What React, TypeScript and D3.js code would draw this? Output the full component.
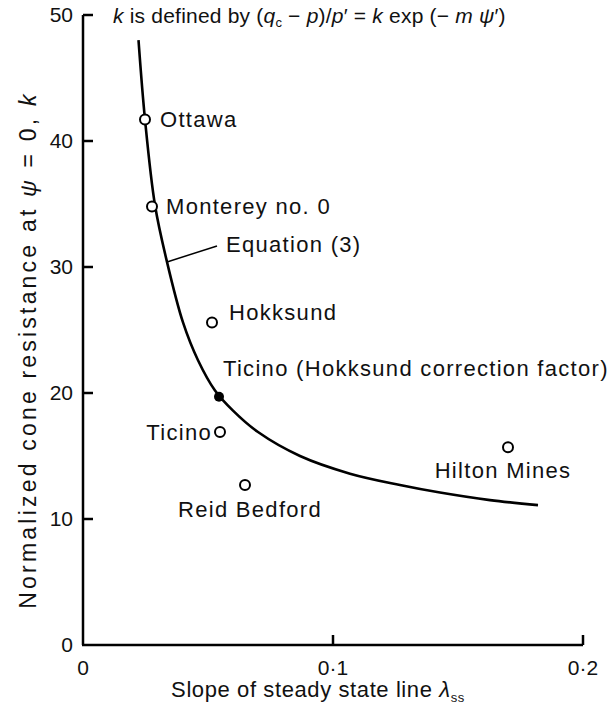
import React from "react";
import * as d3 from "d3";

// ---- data ----
const sites = ["Ottawa", "Monterey no. 0", "Hokksund", "Ticino", "Reid Bedford", "Hilton Mines"];
const lambdaSS = [0.0248, 0.0276, 0.0516, 0.0548, 0.0648, 0.170];
const kValues = [41.7, 34.8, 25.6, 16.9, 12.7, 15.7];

const filledSite = ["Ticino (Hokksund correction factor)"];
const filledLambda = [0.0544];
const filledK = [19.7];

const curveLambda = [0.0222, 0.0248, 0.0288, 0.0336, 0.04, 0.046, 0.0528, 0.06, 0.07, 0.0868, 0.1068, 0.1268, 0.1428, 0.1628, 0.182];
const curveK = [48.0, 41.7, 34.9, 30.4, 25.6, 22.6, 20.2, 18.6, 16.9, 15.0, 13.6, 12.7, 12.1, 11.5, 11.1];

const xTicks = [0, 0.1, 0.2];
const xTickLabels = ["0", "0·1", "0·2"];
const yTicks = [0, 10, 20, 30, 40, 50];

// ---- layout (not data) ----
const W = 612;
const H = 710;
const FONT = "'Liberation Sans', Arial, Helvetica, sans-serif";
const FS = 22;
const LS = 1.3;

const labelLayout: Record<string, { dx: number; dy: number; anchor: string }> = {
  "Ottawa": { dx: 15, dy: 0, anchor: "start" },
  "Monterey no. 0": { dx: 14, dy: 0, anchor: "start" },
  "Hokksund": { dx: 17, dy: -10, anchor: "start" },
  "Ticino": { dx: -8, dy: 0, anchor: "end" },
  "Reid Bedford": { dx: 5, dy: 24, anchor: "middle" },
  "Hilton Mines": { dx: -5, dy: 23, anchor: "middle" },
  "Ticino (Hokksund correction factor)": { dx: 4, dy: -28, anchor: "start" },
};

export default function App() {
  const x = d3.scaleLinear().domain([0, 0.2]).range([83, 583]);
  const y = d3.scaleLinear().domain([0, 50]).range([645, 15]);

  const curvePts: [number, number][] = curveLambda.map((l, i) => [l, curveK[i]]);
  const line = d3
    .line<[number, number]>()
    .x((d) => x(d[0]))
    .y((d) => y(d[1]))
    .curve(d3.curveCatmullRom.alpha(0.5));

  // leader for "Equation (3)" touches curve at 4th curve point
  const eqAnchor = curvePts[3];
  const ax = x(eqAnchor[0]);
  const ay = y(eqAnchor[1]);

  const textStyle = { fontFamily: FONT, fontSize: FS, letterSpacing: LS, fill: "#111" } as any;

  return (
    <svg width={W} height={H} style={{ position: "absolute", left: 0, top: 0, background: "#fff" }}>
      <rect x={0} y={0} width={W} height={H} fill="#fff" />
      {/* axes */}
      <line x1={x(0)} y1={y(0)} x2={x(0)} y2={y(50)} stroke="#000" strokeWidth={2.5} />
      <line x1={x(0) - 1} y1={y(0)} x2={x(0.2)} y2={y(0)} stroke="#000" strokeWidth={2.5} />
      {yTicks.filter((t) => t > 0).map((t) => (
        <line key={"yt" + t} x1={x(0)} x2={x(0) + 10} y1={y(t)} y2={y(t)} stroke="#000" strokeWidth={2.5} />
      ))}
      {xTicks.filter((t) => t > 0).map((t) => (
        <line key={"xt" + t} x1={x(t)} x2={x(t)} y1={y(0)} y2={y(0) - 10} stroke="#000" strokeWidth={2.5} />
      ))}
      {yTicks.map((t) => (
        <text key={"yl" + t} x={x(0) - 10} y={y(t)} dy="0.35em" textAnchor="end" style={{ ...textStyle, fontSize: 21, letterSpacing: 0 }}>
          {t}
        </text>
      ))}
      {xTicks.map((t, i) => (
        <text key={"xl" + t} x={x(t)} y={y(0) + 30} textAnchor="middle" style={{ ...textStyle, fontSize: 21, letterSpacing: 0 }}>
          {xTickLabels[i]}
        </text>
      ))}
      {/* axis titles */}
      <text x={318} y={697} textAnchor="middle" style={{ ...textStyle, letterSpacing: 0.6 }}>
        Slope of steady state line <tspan fontStyle="italic">λ</tspan>
        <tspan fontSize={13} dy={5}>ss</tspan>
      </text>
      <text transform={`translate(36, 350) rotate(-90)`} textAnchor="middle" style={{ ...textStyle, fontSize: 23, letterSpacing: 3.2 }}>
        Normalized cone resistance at <tspan fontStyle="italic">ψ</tspan> = 0, <tspan fontStyle="italic">k</tspan>
      </text>
      {/* equation header */}
      <text x={113} y={23} style={{ ...textStyle, fontSize: 21, letterSpacing: 0.2 }}>
        <tspan fontStyle="italic">k</tspan> is defined by (<tspan fontStyle="italic">q</tspan>
        <tspan fontSize={13} dy={4}>c</tspan>
        <tspan dy={-4}> − </tspan>
        <tspan fontStyle="italic">p</tspan>)/<tspan fontStyle="italic">p</tspan>′ = <tspan fontStyle="italic">k</tspan> exp (− <tspan fontStyle="italic">m ψ</tspan>′)
      </text>
      {/* curve */}
      <path d={line(curvePts) || ""} fill="none" stroke="#000" strokeWidth={2.6} />
      {/* equation leader */}
      <line x1={ax} y1={ay} x2={ax + 50} y2={ay - 16} stroke="#000" strokeWidth={1.5} />
      <text x={ax + 59} y={ay - 18} dy="0.35em" style={textStyle}>
        Equation (3)
      </text>
      {/* open points */}
      {sites.map((s, i) => {
        const L = labelLayout[s];
        return (
          <g key={s}>
            <circle cx={x(lambdaSS[i])} cy={y(kValues[i])} r={5} fill="#fff" stroke="#000" strokeWidth={2} />
            <text x={x(lambdaSS[i]) + L.dx} y={y(kValues[i]) + L.dy} dy="0.35em" textAnchor={L.anchor as any} style={textStyle}>
              {s}
            </text>
          </g>
        );
      })}
      {/* filled point */}
      {filledSite.map((s, i) => {
        const L = labelLayout[s];
        return (
          <g key={s}>
            <circle cx={x(filledLambda[i])} cy={y(filledK[i])} r={5} fill="#000" />
            <text x={x(filledLambda[i]) + L.dx} y={y(filledK[i]) + L.dy} dy="0.35em" textAnchor={L.anchor as any} style={textStyle}>
              {s}
            </text>
          </g>
        );
      })}
    </svg>
  );
}
